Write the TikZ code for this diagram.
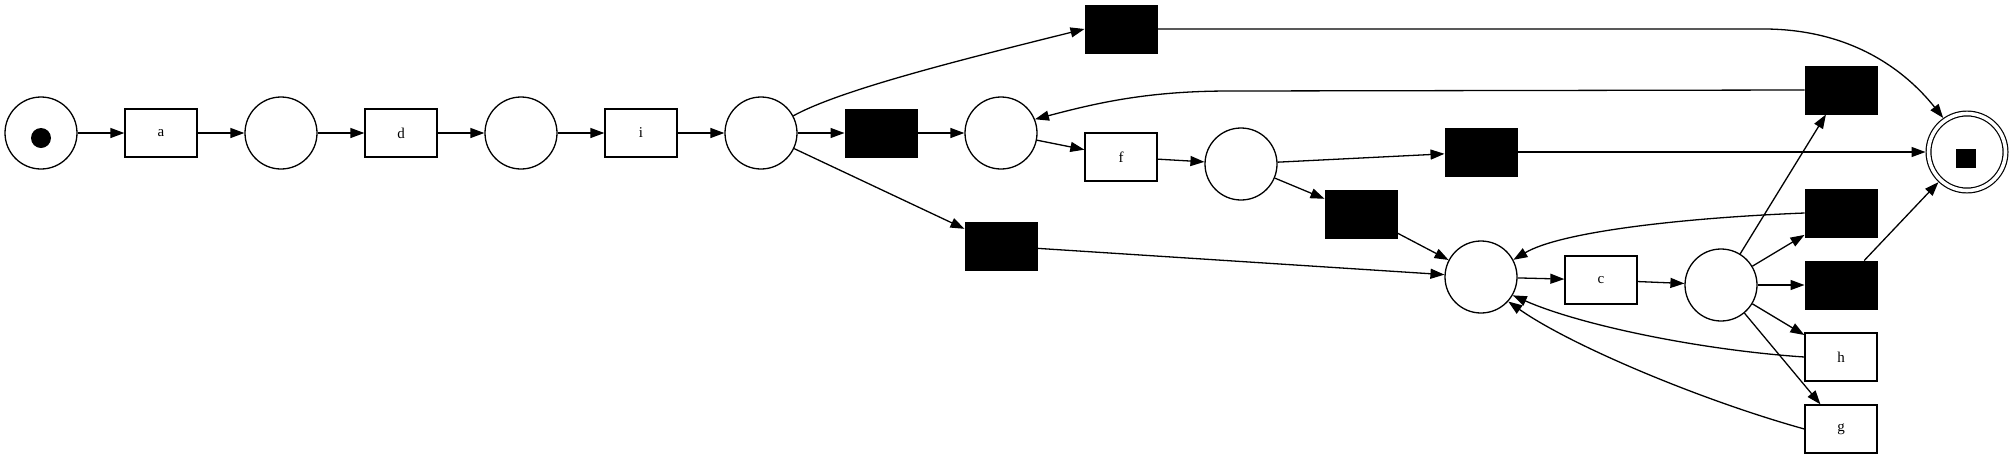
\documentclass[tikz,border=0pt]{standalone}
\usepackage{fontspec}
\setmainfont{Liberation Serif}
\usetikzlibrary{arrows.meta}
\begin{document}
\begin{tikzpicture}[x=1pt,y=-1pt,
  place/.style={circle,draw,line width=1.3pt,minimum size=72pt,inner sep=0pt},
  trans/.style={rectangle,draw,line width=1.3pt,minimum width=72pt,minimum height=48pt,inner sep=0pt,font=\fontsize{15}{15}\selectfont},
  silent/.style={rectangle,fill=black,draw=black,line width=1pt,minimum width=72pt,minimum height=48pt,inner sep=0pt},
  arc/.style={line width=1.3pt,-{Triangle[length=14pt,width=10pt]}},
]
\useasboundingbox (0,0) rectangle (2013,459);
% places and transitions
\node[place] (p0) at (41,133) {};
\node[circle,fill=black,minimum size=20pt,inner sep=0pt] (tok) at (41,138) {};
\node[trans] (a) at (161,133) {a};
\node[place] (p1) at (281,133) {};
\node[trans] (d) at (401,133) {d};
\node[place] (p2) at (521,133) {};
\node[trans] (i) at (641,133) {i};
\node[place] (p3) at (761,133) {};
\node[silent] (t1) at (881,133) {};
\node[place] (p4) at (1001,133) {};
\node[silent] (t0) at (1121,29) {};
\node[trans] (f) at (1121,157) {f};
\node[place] (p5) at (1241,164) {};
\node[silent] (t2) at (1481,152) {};
\node[silent] (t3) at (1361,214) {};
\node[silent] (t4) at (1001,246) {};
\node[place] (p6) at (1481,277) {};
\node[trans] (c) at (1601,280) {c};
\node[place] (p7) at (1721,285) {};
\node[silent] (t5) at (1841,90) {};
\node[silent] (t6) at (1841,213) {};
\node[silent] (t7) at (1841,285) {};
\node[trans] (h) at (1841,357) {h};
\node[trans] (g) at (1841,429) {g};
\node[circle,draw,double,double distance=3.6pt,line width=1.2pt,minimum size=77pt,inner sep=0pt,outer sep=3pt] (end) at (1967,152) {};
\node[rectangle,fill=black,minimum width=20pt,minimum height=19pt,inner sep=0pt] (endtok) at (1966,158) {};
% arcs
\draw[arc] (p0) -- (a);
\draw[arc] (a) -- (p1);
\draw[arc] (p1) -- (d);
\draw[arc] (d) -- (p2);
\draw[arc] (p2) -- (i);
\draw[arc] (i) -- (p3);
\draw[arc] (p3) -- (t1);
\draw[arc] (t1) -- (p4);
\draw[arc] (p3.28) .. controls (840,90) and (960,60) .. (t0.west);
\draw[arc] (p3) -- (t4);
\draw[arc] (p4) -- (f);
\draw[arc] (f) -- (p5);
\draw[arc] (p5) -- (t2);
\draw[arc] (p5) -- (t3);
\draw[arc] (t0.east) -- (1760,29) .. controls (1850,28) and (1905,70) .. (end.125);
\draw[arc] (t5.west) -- (1230,91) .. controls (1150,91) and (1100,102) .. (p4.22);
\draw[arc] (t2) -- (end);
\draw[arc] (t3) -- (p6);
\draw[arc] (t4) -- (p6);
\draw[arc] (p6) -- (c);
\draw[arc] (c) -- (p7);
\draw[arc] (p7) -- (t5);
\draw[arc] (p7) -- (t6);
\draw[arc] (p7) -- (t7);
\draw[arc] (p7) -- (h);
\draw[arc] (p7) -- (g);
\draw[arc] (t7) -- (end);
\draw[arc] (t6.west) .. controls (1680,218) and (1560,232) .. (p6.28);
\draw[arc] (h.west) .. controls (1700,350) and (1580,325) .. (p6.-30);
\draw[arc] (g.west) .. controls (1700,400) and (1570,345) .. (p6.-42);
\end{tikzpicture}
\end{document}
